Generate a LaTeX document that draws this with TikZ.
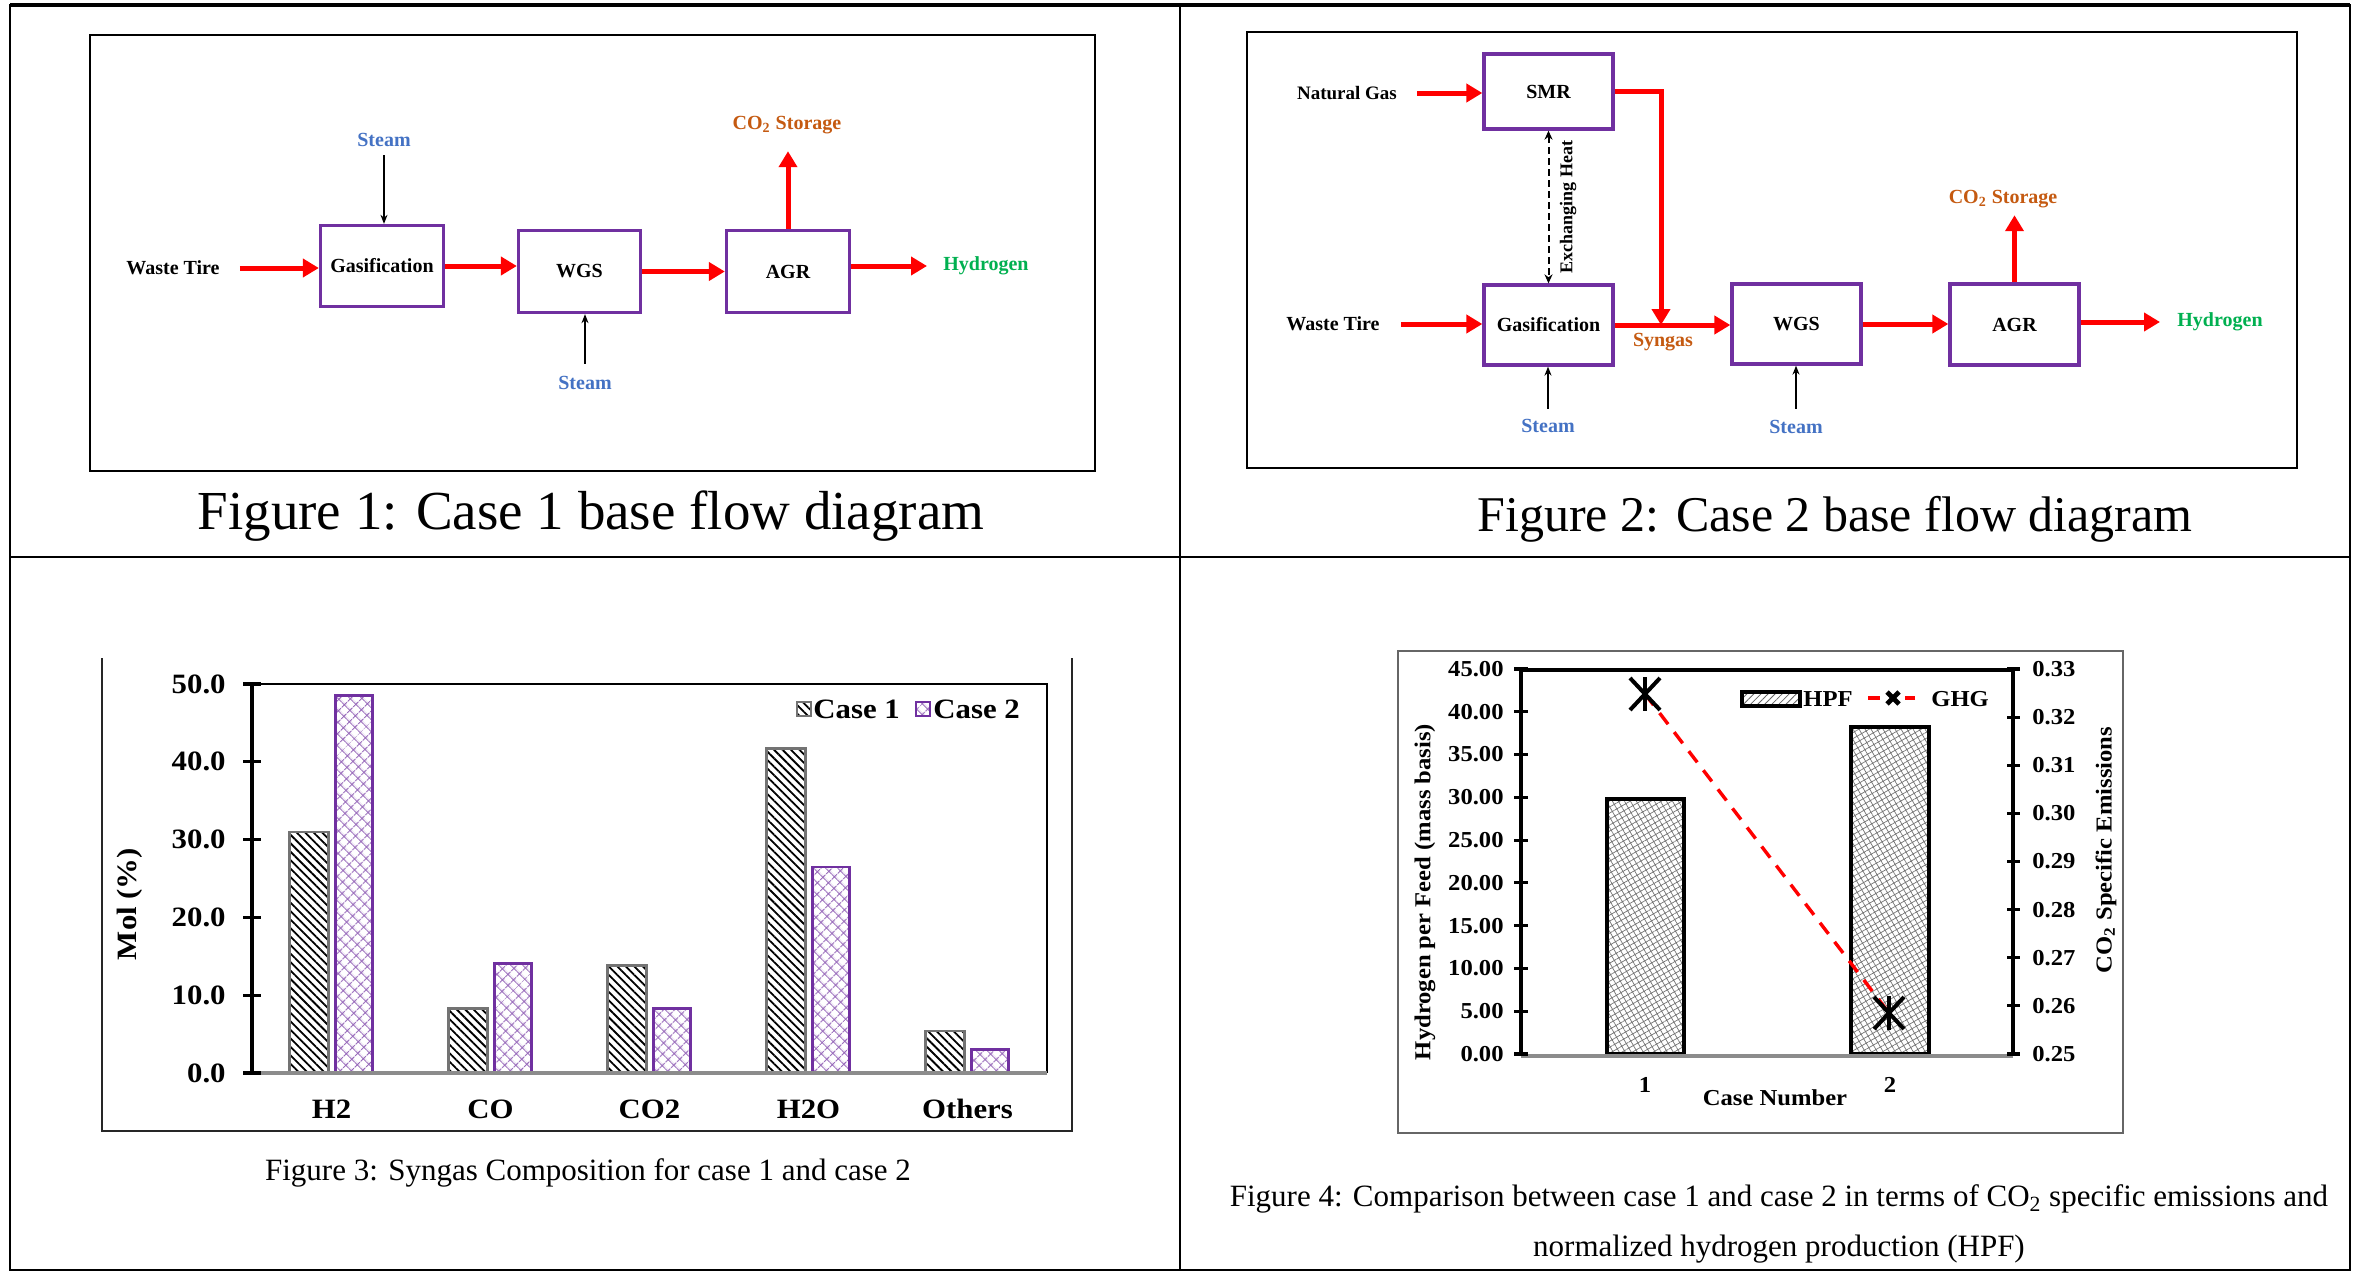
\documentclass[tikz,border=0pt]{standalone}
\usepackage{fontspec}
\setmainfont{Liberation Serif}
\newfontfamily\chA[FakeStretch=1.1]{Liberation Serif}
\newfontfamily\chB[FakeStretch=1.08]{Liberation Serif}
\usetikzlibrary{arrows.meta,patterns.meta}
\definecolor{boxpurple}{HTML}{7030A0}
\definecolor{steamblue}{HTML}{4472C4}
\definecolor{co2orange}{HTML}{C55A11}
\definecolor{h2green}{HTML}{00B050}
\begin{document}
\begin{tikzpicture}[x=0.5pt,y=-0.5pt,
  box/.style={draw=boxpurple,line width=1.65pt,inner sep=0pt,font=\bfseries\fontsize{10}{12}\selectfont},
  lbl/.style={inner sep=0pt,font=\bfseries\fontsize{10}{12}\selectfont},
  redarrow/.style={draw=red,line width=2.5pt,-{Triangle[length=8pt,width=9pt]}},
  thinarrow/.style={draw=black,line width=0.7pt,-{Stealth[length=4.5pt,width=3.5pt]}},
  dasharrow/.style={draw=black,line width=1pt,dash pattern=on 3.5pt off 2pt,{Stealth[length=4.5pt,width=4pt]}-{Stealth[length=4.5pt,width=4pt]}},
  frame/.style={draw=black,line width=1.3pt},
  c3/.style={font=\chA\bfseries\fontsize{14}{16}\selectfont,inner sep=0pt},
  c4/.style={font=\chB\bfseries\fontsize{11.4}{13}\selectfont,inner sep=0pt},
  case1/.style={draw=black!55,line width=1.2pt,pattern={Lines[angle=-45,distance=3pt,line width=0.9pt]},pattern color=black},
  case2/.style={draw=boxpurple,line width=1.3pt,pattern={Hatch[angle=45,distance=4pt,line width=0.5pt]},pattern color=boxpurple!75},
  hpf/.style={draw=black,line width=1.8pt,pattern={Hatch[angle=30,distance=2.6pt,line width=0.35pt]},pattern color=black!55},
  tk/.style={line width=1.6pt},
  ghg/.style={draw=red,line width=1.7pt,dash pattern=on 7pt off 5pt},
  mk/.style={line width=2pt},
  captxt/.style={inner sep=0pt}]
\fill[white] (0,0) rectangle (2362,1274);
\useasboundingbox (0,0) rectangle (2362,1274);

% ---------- outer table ----------
\draw[line width=1pt] (10,5) rectangle (2350,1270);
\draw[line width=1.6pt] (10,5) -- (2350,5);
\draw[line width=1pt] (1180,5) -- (1180,1270);
\draw[line width=1pt] (10,557) -- (2350,557);

% ---------- Figure 1 ----------
\draw[frame] (90,35) rectangle (1095,471);
\node[box,minimum width=61.5pt,minimum height=40.5pt] (gas1) at (382,266) {Gasification};
\node[box,minimum width=61pt,minimum height=41pt] (wgs1) at (579.5,271.5) {WGS};
\node[box,minimum width=61.5pt,minimum height=41pt] (agr1) at (788,271.5) {AGR};
\node[lbl] (wt1) at (173,268) {Waste Tire};
\node[lbl,text=h2green] (hy1) at (986,266) {Hydrogen};
\node[lbl,text=co2orange] (co21) at (787,125) {CO\textsubscript{2} Storage};
\node[lbl,text=steamblue] (st1a) at (384,140) {Steam};
\node[lbl,text=steamblue] (st1b) at (585,383) {Steam};
\draw[redarrow] ([xshift=10pt]wt1.east) -- (gas1.west |- wt1.east);
\draw[redarrow] (gas1.east) -- (gas1.east -| wgs1.west);
\draw[redarrow] (wgs1.east) -- (agr1.west);
\draw[redarrow] (agr1.east |- hy1.west) -- ([xshift=-8pt]hy1.west);
\draw[redarrow,shorten >=8.5pt] (agr1.north) -- (agr1.north |- co21.south);
\draw[thinarrow,shorten <=4pt] (st1a.south) -- (st1a.south |- gas1.north);
\draw[thinarrow,shorten <=6pt] (st1b.north) -- (st1b.north |- wgs1.south);
\node[captxt,font=\fontsize{27.5}{33}\selectfont] (cap1) at (591,516) {Figure 1: Case 1 base flow diagram};

% ---------- Figure 2 ----------
\draw[frame] (1247,32) rectangle (2297,468);
\node[box,minimum width=64.5pt,minimum height=37.5pt] (smr) at (1548.5,91.5) {SMR};
\node[box,minimum width=64.5pt,minimum height=40pt] (gas2) at (1548.5,325) {Gasification};
\node[box,minimum width=64.5pt,minimum height=40pt] (wgs2) at (1796.5,324) {WGS};
\node[box,minimum width=64.5pt,minimum height=40.5pt] (agr2) at (2014.5,324.5) {AGR};
\node[lbl,font=\bfseries\fontsize{9.5}{11}\selectfont] (ng) at (1347,93) {Natural Gas};
\node[lbl] (wt2) at (1333,324) {Waste Tire};
\node[lbl,text=co2orange] (syn) at (1663,342) {Syngas};
\node[lbl,text=h2green] (hy2) at (2220,322) {Hydrogen};
\node[lbl,text=co2orange] (co22) at (2003,199) {CO\textsubscript{2} Storage};
\node[lbl,text=steamblue] (st2a) at (1548,426) {Steam};
\node[lbl,text=steamblue] (st2b) at (1796,427) {Steam};
\node[lbl,font=\bfseries\fontsize{9}{11}\selectfont,rotate=90] (exh) at (1568,207) {Exchanging Heat};
\coordinate (sj) at (1661,325);
\draw[redarrow] ([xshift=10pt]ng.east) -- (smr.west |- ng.east);
\draw[redarrow] ([xshift=10.5pt]wt2.east) -- (gas2.west |- wt2.east);
\draw[redarrow] (gas2.east) -- (gas2.east -| wgs2.west);
\draw[redarrow] (smr.east) -| (sj);
\draw[redarrow] (wgs2.east) -- (agr2.west |- wgs2.east);
\draw[redarrow] (agr2.east |- hy2.west) -- ([xshift=-8.5pt]hy2.west);
\draw[redarrow,shorten >=3.5pt] (agr2.north) -- (agr2.north |- co22.south);
\draw[dasharrow] (smr.south) -- (gas2.north);
\draw[thinarrow,shorten <=5pt] (st2a.north) -- (st2a.north |- gas2.south);
\draw[thinarrow,shorten <=5.5pt] (st2b.north) -- (st2b.north |- wgs2.south);
\node[captxt,font=\fontsize{25}{30}\selectfont] (cap2) at (1835,519) {Figure 2: Case 2 base flow diagram};

% ---------- Figure 3 ----------
\draw[line width=1.2pt,black!85] (102,658) -- (102,1131) -- (1072,1131) -- (1072,658);
\draw[line width=0.9pt] (252,684) -- (1047,684) -- (1047,1073);
\foreach \cx/\a/\b/\nm [count=\i] in {331.5/31.0/48.5/H2, 490.5/8.3/14.1/CO, 649.5/13.8/8.3/CO2, 808.5/41.7/26.5/H2O, 967.5/5.4/3.0/Others}{
  \draw[case1] ({\cx-42},1073) rectangle ({\cx-3},{1073-7.78*\a});
  \draw[case2] ({\cx+4},1073) rectangle ({\cx+41},{1073-7.78*\b});
  \node[c3] (cat\i) at (\cx,1109) {\nm};
}
\draw[line width=1.6pt,black!45] (252,1073) -- (1047,1073);
\draw[line width=1.6pt] (252,684) -- (252,1074);
\foreach \v [count=\i] in {0,10,20,30,40,50}{
  \draw[tk] (243,{1073-7.78*\v}) -- (261,{1073-7.78*\v});
  \node[c3,anchor=east] (ya\i) at (226,{1073-7.78*\v}) {\v.0};
}
\node[c3,rotate=90] (ylab3) at (130,904) {Mol (\%)};
\draw[case1,line width=0.8pt] (797,702) rectangle (811,716);
\node[c3,anchor=west] (lg1) at (813,709) {Case 1};
\draw[case2,line width=1pt] (916,702) rectangle (930,716);
\node[c3,anchor=west] (lg2) at (933,709) {Case 2};
\node[captxt,font=\fontsize{15.5}{19}\selectfont] (cap3) at (588,1173) {Figure 3: Syngas Composition for case 1 and case 2};

% ---------- Figure 4 ----------
\draw[black!60,line width=1.2pt] (1398,651) rectangle (2123,1133);
\draw[line width=1.6pt] (1521,670) -- (2013,670);
\draw[hpf] (1607,1054) rectangle (1684,799);
\draw[hpf] (1851,1054) rectangle (1929,727);
\draw[black!45,line width=2pt] (1521,1056) -- (2013,1056);
\draw[line width=2pt] (1521,670) -- (1521,1055);
\draw[line width=2pt] (2013,670) -- (2013,1055);
\foreach \v/\t [count=\i] in {0/0.00,5/5.00,10/10.00,15/15.00,20/20.00,25/25.00,30/30.00,35/35.00,40/40.00,45/45.00}{
  \draw[tk] (1514,{1054-8.556*\v}) -- (1528,{1054-8.556*\v});
  \node[c4,anchor=east] (yl\i) at (1504,{1054-8.556*\v}) {\t};
}
\foreach \t [count=\i from 0] in {0.25,0.26,0.27,0.28,0.29,0.30,0.31,0.32,0.33}{
  \draw[tk] (2007,{1054-48.125*\i}) -- (2020,{1054-48.125*\i});
  \node[c4,anchor=west] (yr\i) at (2032,{1054-48.125*\i}) {\t};
}
\coordinate (m1) at (1645,694);
\coordinate (m2) at (1889,1013);
\draw[ghg] (m1) -- (m2);
\foreach \p in {m1,m2}{
  \draw[mk] ([shift={(-15,-16)}]\p) -- ([shift={(15,16)}]\p);
  \draw[mk] ([shift={(15,-16)}]\p) -- ([shift={(-15,16)}]\p);
  \draw[mk] ([shift={(0,-17)}]\p) -- ([shift={(0,17)}]\p);
}
\draw[black,line width=1.6pt,pattern={Lines[angle=45,distance=2.5pt,line width=0.4pt]},pattern color=black!60] (1742,692) rectangle (1800,706);
\node[c4,anchor=west] (lgh) at (1803,699) {HPF};
\coordinate (lga) at (1868,698);
\coordinate (lgb) at (1915,698);
\coordinate (lgm) at (1893,698);
\draw[red,line width=1.8pt] (lga) -- ++(12,0);
\draw[red,line width=1.8pt] (lgb) -- ++(-10,0);
\draw[line width=2.4pt] ([shift={(-6,-6)}]lgm) -- ([shift={(6,6)}]lgm);
\draw[line width=2.4pt] ([shift={(6,-6)}]lgm) -- ([shift={(-6,6)}]lgm);
\node[c4,anchor=west] (lgg) at (1931,699) {GHG};
\node[c4] (xt1) at (1645,1085) {1};
\node[c4] (xt2) at (1890,1085) {2};
\node[c4] (xlab) at (1775,1098) {Case Number};
\node[c4,rotate=90] (ylab4) at (1425,892) {Hydrogen per Feed (mass basis)};
\node[c4,rotate=90] (yrlab4) at (2106,850) {CO\textsubscript{2} Specific Emissions};
\node[captxt,font=\fontsize{15.5}{25}\selectfont,align=center] (cap4) at (1779,1224) {Figure 4: Comparison between case 1 and case 2 in terms of CO\textsubscript{2} specific emissions and\\normalized hydrogen production (HPF)};
\end{tikzpicture}
\end{document}
